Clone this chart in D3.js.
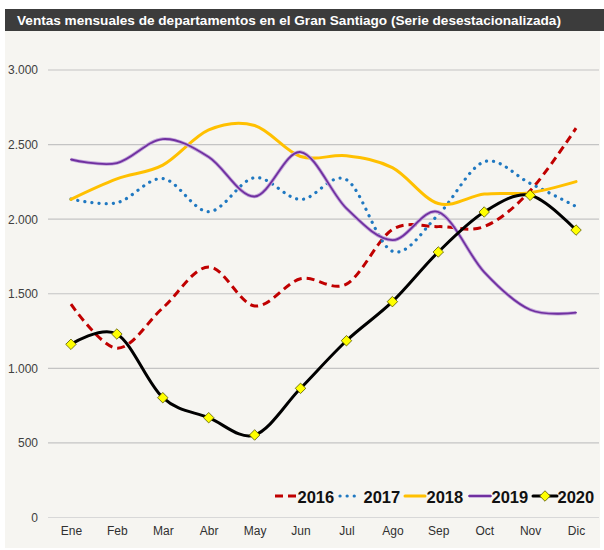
<!DOCTYPE html>
<html>
<head>
<meta charset="utf-8">
<script src="https://cdn.jsdelivr.net/npm/d3@7"></script>
<style>
  body { margin: 0; background: #fff; }
  svg { display: block; font-family: "Liberation Sans", Arial, sans-serif; }
</style>
</head>
<body>
<div id="chartArea"></div>
<script>
// datos
var meses = ["Ene", "Feb", "Mar", "Abr", "May", "Jun", "Jul", "Ago", "Sep", "Oct", "Nov", "Dic"];
var v2016 = [1430, 1135, 1405, 1680, 1418, 1600, 1565, 1930, 1950, 1950, 2190, 2610];
var v2017 = [2135, 2110, 2272, 2050, 2278, 2132, 2265, 1785, 2030, 2385, 2240, 2085];
var v2018 = [2133, 2270, 2362, 2598, 2628, 2420, 2425, 2345, 2105, 2168, 2178, 2252];
var v2019 = [2400, 2376, 2537, 2417, 2152, 2450, 2072, 1860, 2048, 1645, 1393, 1373];
var v2020 = [1161, 1230, 803, 669, 553, 866, 1185, 1447, 1780, 2048, 2160, 1927];
var yTicks = [0, 500, 1000, 1500, 2000, 2500, 3000];

var series = [
    { id: "2016", values: v2016, color: "#c00000", width: 3, dash: "8,5", cap: "butt" },
    { id: "2017", values: v2017, color: "#1f78c1", width: 3.2, dash: "0.1,7", cap: "round" },
    { id: "2018", values: v2018, color: "#ffc000", width: 3, dash: null, cap: "round" },
    { id: "2019", values: v2019, color: "#7030a0", width: 1.8, dash: null, cap: "round" },
    { id: "2020", values: v2020, color: "#000000", width: 3, dash: null, cap: "round" }
];

var svg = d3.select("#chartArea").append("svg")
    .attr("width", 604).attr("height", 550);

// fondo y barra del título
svg.append("rect").attr("x", 5).attr("y", 31).attr("width", 595).attr("height", 517)
    .attr("fill", "#f6f5f1");
svg.append("rect").attr("x", 5).attr("y", 9).attr("width", 599).attr("height", 22)
    .attr("fill", "#3c3c3c");
svg.append("text").attr("x", 17).attr("y", 25)
    .attr("fill", "#fff").style("font-weight", "bold").style("font-size", "13.6px")
    .text("Ventas mensuales de departamentos en el Gran Santiago (Serie desestacionalizada)");

var plot = { left: 48, right: 599, top: 70, bottom: 517.5 };

var x = d3.scalePoint().domain(meses).range([plot.left, plot.right]).padding(0.5);
var y = d3.scaleLinear().domain([0, 3000]).range([plot.bottom, plot.top]);

var fmt = function (d) { return d3.format(",")(d).replace(/,/g, "."); };

// líneas de grilla
svg.append("g").selectAll("line").data(yTicks).enter().append("line")
    .attr("x1", plot.left).attr("x2", plot.right)
    .attr("y1", function (d) { return y(d); }).attr("y2", function (d) { return y(d); })
    .attr("stroke", function (d) { return d === 0 ? "#d8d8d8" : "#c4c4c4"; })
    .attr("stroke-width", 1.2);

var yAxis = svg.append("g").attr("transform", "translate(" + plot.left + ",0)")
    .call(d3.axisLeft(y).tickValues(yTicks).tickFormat(fmt).tickSize(0).tickPadding(10));
yAxis.select(".domain").remove();
yAxis.selectAll("text").style("font-size", "12px").attr("fill", "#404040")
    .style("font-family", "'Liberation Sans', Arial, sans-serif");

var xAxis = svg.append("g").attr("transform", "translate(0," + plot.bottom + ")")
    .call(d3.axisBottom(x).tickSize(0).tickPadding(9));
xAxis.select(".domain").remove();
xAxis.selectAll("text").style("font-size", "12px").attr("fill", "#303030")
    .style("font-family", "'Liberation Sans', Arial, sans-serif");

var line = d3.line()
    .curve(d3.curveCardinal.tension(0))
    .x(function (d, i) { return x(meses[i]); })
    .y(function (d) { return y(d); });

var lines = svg.append("g");
series.forEach(function (s) {
    if (s.id === "2019") {
        lines.append("path").attr("d", line(s.values)).attr("fill", "none")
            .attr("stroke", "#c3a6da").attr("stroke-width", 3.6);
    }
    lines.append("path")
        .attr("d", line(s.values))
        .attr("fill", "none")
        .attr("stroke", s.color)
        .attr("stroke-width", s.width)
        .attr("stroke-linecap", s.cap)
        .attr("stroke-dasharray", s.dash);
});

// marcadores 2020
var diamond = d3.symbol().type(d3.symbolDiamond2).size(70);
lines.selectAll(".mk").data(v2020).enter().append("path")
    .attr("class", "mk")
    .attr("d", diamond)
    .attr("transform", function (d, i) { return "translate(" + x(meses[i]) + "," + y(d) + ")"; })
    .attr("fill", "#ffff00").attr("stroke", "#555500").attr("stroke-width", 0.8);

// leyenda
var legendY = 496;
var legendPos = [
    { id: "2016", x1: 275, x2: 296, tx: 297.5 },
    { id: "2017", x1: 340, x2: 357, tx: 363.5 },
    { id: "2018", x1: 405, x2: 425, tx: 426.5 },
    { id: "2019", x1: 469, x2: 491, tx: 491.5 },
    { id: "2020", x1: 533, x2: 557, tx: 557.5 }
];
var legend = svg.append("g");
legendPos.forEach(function (p, i) {
    var s = series[i];
    if (s.id === "2019") {
        legend.append("line").attr("x1", p.x1).attr("x2", p.x2).attr("y1", legendY).attr("y2", legendY)
            .attr("stroke", "#c3a6da").attr("stroke-width", 3.6);
    }
    legend.append("line")
        .attr("x1", p.x1).attr("x2", p.x2).attr("y1", legendY).attr("y2", legendY)
        .attr("stroke", s.color).attr("stroke-width", s.width)
        .attr("stroke-linecap", s.cap).attr("stroke-dasharray", s.dash);
    if (s.id === "2020") {
        legend.append("path").attr("d", diamond)
            .attr("transform", "translate(" + ((p.x1 + p.x2) / 2) + "," + legendY + ")")
            .attr("fill", "#ffff00").attr("stroke", "#555500").attr("stroke-width", 0.8);
    }
    legend.append("text").attr("x", p.tx).attr("y", legendY + 6.5)
        .style("font-size", "16.5px").style("font-weight", "bold").attr("fill", "#111")
        .text(s.id);
});
</script>
</body>
</html>
